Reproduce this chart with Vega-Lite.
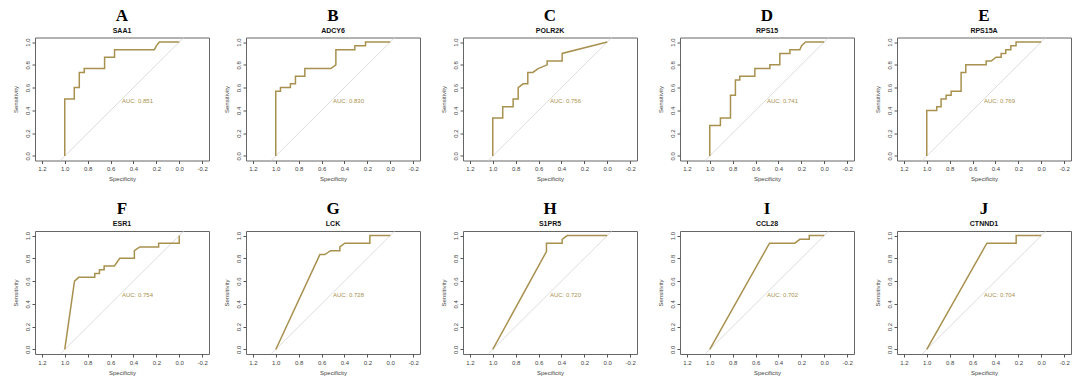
{
"$schema":"https://vega.github.io/schema/vega-lite/v6.json",
"background":"white",
"padding":{"left":11,"top":5.5,"right":0,"bottom":0},
"datasets":{
"diag":[{"x":1.04,"y":-0.04},{"x":-0.04,"y":1.04}],
"auc":[{"p":"A","label":"AUC: 0.851"},{"p":"B","label":"AUC: 0.830"},{"p":"C","label":"AUC: 0.756"},{"p":"D","label":"AUC: 0.741"},{"p":"E","label":"AUC: 0.769"},{"p":"F","label":"AUC: 0.754"},{"p":"G","label":"AUC: 0.728"},{"p":"H","label":"AUC: 0.720"},{"p":"I","label":"AUC: 0.702"},{"p":"J","label":"AUC: 0.704"}],
"roc":[
{"p":"A","i":0,"x":1,"y":0},{"p":"A","i":1,"x":1,"y":0.5},{"p":"A","i":2,"x":0.917,"y":0.5},{"p":"A","i":3,"x":0.917,"y":0.6},{"p":"A","i":4,"x":0.873,"y":0.6},{"p":"A","i":5,"x":0.873,"y":0.733},{"p":"A","i":6,"x":0.83,"y":0.733},{"p":"A","i":7,"x":0.83,"y":0.767},{"p":"A","i":8,"x":0.652,"y":0.767},{"p":"A","i":9,"x":0.652,"y":0.867},{"p":"A","i":10,"x":0.565,"y":0.867},{"p":"A","i":11,"x":0.565,"y":0.933},{"p":"A","i":12,"x":0.217,"y":0.933},{"p":"A","i":13,"x":0.2,"y":0.967},{"p":"A","i":14,"x":0.174,"y":1},{"p":"A","i":15,"x":0,"y":1},
{"p":"B","i":0,"x":1,"y":0},{"p":"B","i":1,"x":1,"y":0.567},{"p":"B","i":2,"x":0.959,"y":0.567},{"p":"B","i":3,"x":0.959,"y":0.6},{"p":"B","i":4,"x":0.872,"y":0.6},{"p":"B","i":5,"x":0.872,"y":0.633},{"p":"B","i":6,"x":0.828,"y":0.633},{"p":"B","i":7,"x":0.828,"y":0.7},{"p":"B","i":8,"x":0.746,"y":0.7},{"p":"B","i":9,"x":0.746,"y":0.767},{"p":"B","i":10,"x":0.519,"y":0.767},{"p":"B","i":11,"x":0.475,"y":0.8},{"p":"B","i":12,"x":0.475,"y":0.933},{"p":"B","i":13,"x":0.309,"y":0.933},{"p":"B","i":14,"x":0.309,"y":0.967},{"p":"B","i":15,"x":0.216,"y":0.967},{"p":"B","i":16,"x":0.216,"y":1},{"p":"B","i":17,"x":0,"y":1},
{"p":"C","i":0,"x":1,"y":0},{"p":"C","i":1,"x":1,"y":0.333},{"p":"C","i":2,"x":0.913,"y":0.333},{"p":"C","i":3,"x":0.913,"y":0.433},{"p":"C","i":4,"x":0.822,"y":0.433},{"p":"C","i":5,"x":0.822,"y":0.5},{"p":"C","i":6,"x":0.778,"y":0.5},{"p":"C","i":7,"x":0.778,"y":0.6},{"p":"C","i":8,"x":0.735,"y":0.633},{"p":"C","i":9,"x":0.694,"y":0.633},{"p":"C","i":10,"x":0.694,"y":0.733},{"p":"C","i":11,"x":0.65,"y":0.733},{"p":"C","i":12,"x":0.604,"y":0.767},{"p":"C","i":13,"x":0.525,"y":0.8},{"p":"C","i":14,"x":0.525,"y":0.833},{"p":"C","i":15,"x":0.394,"y":0.833},{"p":"C","i":16,"x":0.394,"y":0.9},{"p":"C","i":17,"x":0,"y":1},
{"p":"D","i":0,"x":1,"y":0},{"p":"D","i":1,"x":1,"y":0.267},{"p":"D","i":2,"x":0.907,"y":0.267},{"p":"D","i":3,"x":0.907,"y":0.333},{"p":"D","i":4,"x":0.819,"y":0.333},{"p":"D","i":5,"x":0.819,"y":0.533},{"p":"D","i":6,"x":0.776,"y":0.533},{"p":"D","i":7,"x":0.776,"y":0.667},{"p":"D","i":8,"x":0.738,"y":0.667},{"p":"D","i":9,"x":0.738,"y":0.7},{"p":"D","i":10,"x":0.606,"y":0.7},{"p":"D","i":11,"x":0.606,"y":0.767},{"p":"D","i":12,"x":0.475,"y":0.767},{"p":"D","i":13,"x":0.475,"y":0.8},{"p":"D","i":14,"x":0.388,"y":0.8},{"p":"D","i":15,"x":0.388,"y":0.9},{"p":"D","i":16,"x":0.3,"y":0.9},{"p":"D","i":17,"x":0.3,"y":0.933},{"p":"D","i":18,"x":0.213,"y":0.933},{"p":"D","i":19,"x":0.198,"y":0.967},{"p":"D","i":20,"x":0.163,"y":1},{"p":"D","i":21,"x":0,"y":1},
{"p":"E","i":0,"x":1,"y":0},{"p":"E","i":1,"x":1,"y":0.4},{"p":"E","i":2,"x":0.913,"y":0.4},{"p":"E","i":3,"x":0.913,"y":0.433},{"p":"E","i":4,"x":0.875,"y":0.433},{"p":"E","i":5,"x":0.875,"y":0.5},{"p":"E","i":6,"x":0.831,"y":0.5},{"p":"E","i":7,"x":0.831,"y":0.533},{"p":"E","i":8,"x":0.787,"y":0.533},{"p":"E","i":9,"x":0.787,"y":0.567},{"p":"E","i":10,"x":0.7,"y":0.567},{"p":"E","i":11,"x":0.7,"y":0.733},{"p":"E","i":12,"x":0.659,"y":0.733},{"p":"E","i":13,"x":0.659,"y":0.8},{"p":"E","i":14,"x":0.481,"y":0.8},{"p":"E","i":15,"x":0.481,"y":0.833},{"p":"E","i":16,"x":0.437,"y":0.833},{"p":"E","i":17,"x":0.394,"y":0.867},{"p":"E","i":18,"x":0.35,"y":0.867},{"p":"E","i":19,"x":0.35,"y":0.9},{"p":"E","i":20,"x":0.31,"y":0.9},{"p":"E","i":21,"x":0.31,"y":0.933},{"p":"E","i":22,"x":0.266,"y":0.933},{"p":"E","i":23,"x":0.266,"y":0.967},{"p":"E","i":24,"x":0.22,"y":0.967},{"p":"E","i":25,"x":0.22,"y":1},{"p":"E","i":26,"x":0,"y":1},
{"p":"F","i":0,"x":1,"y":0},{"p":"F","i":1,"x":0.915,"y":0.6},{"p":"F","i":2,"x":0.878,"y":0.633},{"p":"F","i":3,"x":0.738,"y":0.633},{"p":"F","i":4,"x":0.738,"y":0.667},{"p":"F","i":5,"x":0.697,"y":0.667},{"p":"F","i":6,"x":0.697,"y":0.7},{"p":"F","i":7,"x":0.656,"y":0.7},{"p":"F","i":8,"x":0.656,"y":0.733},{"p":"F","i":9,"x":0.566,"y":0.733},{"p":"F","i":10,"x":0.52,"y":0.8},{"p":"F","i":11,"x":0.392,"y":0.8},{"p":"F","i":12,"x":0.392,"y":0.867},{"p":"F","i":13,"x":0.345,"y":0.9},{"p":"F","i":14,"x":0.18,"y":0.9},{"p":"F","i":15,"x":0.18,"y":0.933},{"p":"F","i":16,"x":0,"y":0.933},{"p":"F","i":17,"x":0,"y":1},
{"p":"G","i":0,"x":1,"y":0},{"p":"G","i":1,"x":0.615,"y":0.833},{"p":"G","i":2,"x":0.571,"y":0.833},{"p":"G","i":3,"x":0.522,"y":0.867},{"p":"G","i":4,"x":0.44,"y":0.867},{"p":"G","i":5,"x":0.44,"y":0.9},{"p":"G","i":6,"x":0.397,"y":0.933},{"p":"G","i":7,"x":0.178,"y":0.933},{"p":"G","i":8,"x":0.178,"y":1},{"p":"G","i":9,"x":0,"y":1},
{"p":"H","i":0,"x":1,"y":0},{"p":"H","i":1,"x":0.531,"y":0.86},{"p":"H","i":2,"x":0.531,"y":0.933},{"p":"H","i":3,"x":0.394,"y":0.933},{"p":"H","i":4,"x":0.394,"y":0.967},{"p":"H","i":5,"x":0.35,"y":1},{"p":"H","i":6,"x":0,"y":1},
{"p":"I","i":0,"x":1,"y":0},{"p":"I","i":1,"x":0.478,"y":0.933},{"p":"I","i":2,"x":0.257,"y":0.933},{"p":"I","i":3,"x":0.213,"y":0.967},{"p":"I","i":4,"x":0.131,"y":0.967},{"p":"I","i":5,"x":0.131,"y":1},{"p":"I","i":6,"x":0,"y":1},
{"p":"J","i":0,"x":1,"y":0},{"p":"J","i":1,"x":0.475,"y":0.933},{"p":"J","i":2,"x":0.219,"y":0.933},{"p":"J","i":3,"x":0.219,"y":1},{"p":"J","i":4,"x":0,"y":1}
]},
"config":{
"view":{"stroke":"#666666","strokeWidth":1},
"title":{"font":"Liberation Serif","fontSize":17,"fontWeight":"bold","color":"#000000","subtitleFont":"Liberation Sans","subtitleFontSize":7,"subtitleFontWeight":"bold","subtitleColor":"#111111","subtitlePadding":2,"offset":1,"anchor":"middle","frame":"group"},
"axis":{"domain":false,"grid":false,"tickColor":"#555555","tickSize":3,"labelFont":"Liberation Sans","labelFontSize":6,"labelColor":"#444444","labelPadding":2,"titleFont":"Liberation Sans","titleFontSize":6,"titleFontWeight":"normal","titleColor":"#444444"},
"axisX":{"titlePadding":4,"title":"Specificity","values":[1.2,1,0.8,0.6,0.4,0.2,0,-0.2],"labelExpr":"replace(format(datum.value,'.1f'),'\u2212','-')"},
"axisY":{"titlePadding":6,"labelAngle":-90,"title":"Sensitivity","values":[0,0.2,0.4,0.6,0.8,1],"format":".1f"},
"text":{"color":"#a8914f","font":"Liberation Sans","fontSize":6}
},
"spacing":12,
"hconcat":[
{"spacing":16.5,"vconcat":[
{"title":{"text":"A","subtitle":"SAA1"},"width":174,"height":123,"layer":[
{"data":{"name":"diag"},"mark":{"type":"line","color":"#d4d4d4","strokeWidth":0.8},"encoding":{"x":{"field":"x","type":"quantitative","title":"Specificity","scale":{"domain":[1.26,-0.26],"nice":false,"zero":false},"axis":{"values":[1.2,1,0.8,0.6,0.4,0.2,0,-0.2],"labelExpr":"replace(format(datum.value,'.1f'),'\u2212','-')"}},"y":{"field":"y","type":"quantitative","title":"Sensitivity","scale":{"domain":[-0.04,1.04],"nice":false,"zero":false},"axis":{"values":[0,0.2,0.4,0.6,0.8,1],"format":".1f"}}}},
{"data":{"name":"roc"},"transform":[{"filter":"datum.p==='A'"}],"mark":{"type":"line","color":"#a8914f","strokeWidth":1.5},"encoding":{"x":{"field":"x","type":"quantitative","title":"Specificity","axis":{"values":[1.2,1,0.8,0.6,0.4,0.2,0,-0.2],"labelExpr":"replace(format(datum.value,'.1f'),'\u2212','-')"}},"y":{"field":"y","type":"quantitative","title":"Sensitivity","axis":{"values":[0,0.2,0.4,0.6,0.8,1],"format":".1f"}},"order":{"field":"i","type":"quantitative"}}},
{"data":{"name":"auc"},"transform":[{"filter":"datum.p==='A'"}],"mark":{"type":"text","align":"left","baseline":"middle"},"encoding":{"x":{"datum":0.5,"title":"Specificity","axis":{"values":[1.2,1,0.8,0.6,0.4,0.2,0,-0.2],"labelExpr":"replace(format(datum.value,'.1f'),'\u2212','-')"}},"y":{"datum":0.48,"title":"Sensitivity","axis":{"values":[0,0.2,0.4,0.6,0.8,1],"format":".1f"}},"text":{"field":"label","type":"nominal"}}}]},
{"title":{"text":"F","subtitle":"ESR1"},"width":174,"height":123,"layer":[
{"data":{"name":"diag"},"mark":{"type":"line","color":"#d4d4d4","strokeWidth":0.8},"encoding":{"x":{"field":"x","type":"quantitative","title":"Specificity","scale":{"domain":[1.26,-0.26],"nice":false,"zero":false},"axis":{"values":[1.2,1,0.8,0.6,0.4,0.2,0,-0.2],"labelExpr":"replace(format(datum.value,'.1f'),'\u2212','-')"}},"y":{"field":"y","type":"quantitative","title":"Sensitivity","scale":{"domain":[-0.04,1.04],"nice":false,"zero":false},"axis":{"values":[0,0.2,0.4,0.6,0.8,1],"format":".1f"}}}},
{"data":{"name":"roc"},"transform":[{"filter":"datum.p==='F'"}],"mark":{"type":"line","color":"#a8914f","strokeWidth":1.5},"encoding":{"x":{"field":"x","type":"quantitative","title":"Specificity","axis":{"values":[1.2,1,0.8,0.6,0.4,0.2,0,-0.2],"labelExpr":"replace(format(datum.value,'.1f'),'\u2212','-')"}},"y":{"field":"y","type":"quantitative","title":"Sensitivity","axis":{"values":[0,0.2,0.4,0.6,0.8,1],"format":".1f"}},"order":{"field":"i","type":"quantitative"}}},
{"data":{"name":"auc"},"transform":[{"filter":"datum.p==='F'"}],"mark":{"type":"text","align":"left","baseline":"middle"},"encoding":{"x":{"datum":0.5,"title":"Specificity","axis":{"values":[1.2,1,0.8,0.6,0.4,0.2,0,-0.2],"labelExpr":"replace(format(datum.value,'.1f'),'\u2212','-')"}},"y":{"datum":0.48,"title":"Sensitivity","axis":{"values":[0,0.2,0.4,0.6,0.8,1],"format":".1f"}},"text":{"field":"label","type":"nominal"}}}]}
]},
{"columns":4,"spacing":{"row":16.5,"column":18},"concat":[
{"title":{"text":"B","subtitle":"ADCY6"},"width":174,"height":123,"layer":[
{"data":{"name":"diag"},"mark":{"type":"line","color":"#d4d4d4","strokeWidth":0.8},"encoding":{"x":{"field":"x","type":"quantitative","title":"Specificity","scale":{"domain":[1.26,-0.26],"nice":false,"zero":false},"axis":{"values":[1.2,1,0.8,0.6,0.4,0.2,0,-0.2],"labelExpr":"replace(format(datum.value,'.1f'),'\u2212','-')"}},"y":{"field":"y","type":"quantitative","title":"Sensitivity","scale":{"domain":[-0.04,1.04],"nice":false,"zero":false},"axis":{"values":[0,0.2,0.4,0.6,0.8,1],"format":".1f"}}}},
{"data":{"name":"roc"},"transform":[{"filter":"datum.p==='B'"}],"mark":{"type":"line","color":"#a8914f","strokeWidth":1.5},"encoding":{"x":{"field":"x","type":"quantitative","title":"Specificity","axis":{"values":[1.2,1,0.8,0.6,0.4,0.2,0,-0.2],"labelExpr":"replace(format(datum.value,'.1f'),'\u2212','-')"}},"y":{"field":"y","type":"quantitative","title":"Sensitivity","axis":{"values":[0,0.2,0.4,0.6,0.8,1],"format":".1f"}},"order":{"field":"i","type":"quantitative"}}},
{"data":{"name":"auc"},"transform":[{"filter":"datum.p==='B'"}],"mark":{"type":"text","align":"left","baseline":"middle"},"encoding":{"x":{"datum":0.5,"title":"Specificity","axis":{"values":[1.2,1,0.8,0.6,0.4,0.2,0,-0.2],"labelExpr":"replace(format(datum.value,'.1f'),'\u2212','-')"}},"y":{"datum":0.48,"title":"Sensitivity","axis":{"values":[0,0.2,0.4,0.6,0.8,1],"format":".1f"}},"text":{"field":"label","type":"nominal"}}}]},
{"title":{"text":"C","subtitle":"POLR2K"},"width":174,"height":123,"layer":[
{"data":{"name":"diag"},"mark":{"type":"line","color":"#d4d4d4","strokeWidth":0.8},"encoding":{"x":{"field":"x","type":"quantitative","title":"Specificity","scale":{"domain":[1.26,-0.26],"nice":false,"zero":false},"axis":{"values":[1.2,1,0.8,0.6,0.4,0.2,0,-0.2],"labelExpr":"replace(format(datum.value,'.1f'),'\u2212','-')"}},"y":{"field":"y","type":"quantitative","title":"Sensitivity","scale":{"domain":[-0.04,1.04],"nice":false,"zero":false},"axis":{"values":[0,0.2,0.4,0.6,0.8,1],"format":".1f"}}}},
{"data":{"name":"roc"},"transform":[{"filter":"datum.p==='C'"}],"mark":{"type":"line","color":"#a8914f","strokeWidth":1.5},"encoding":{"x":{"field":"x","type":"quantitative","title":"Specificity","axis":{"values":[1.2,1,0.8,0.6,0.4,0.2,0,-0.2],"labelExpr":"replace(format(datum.value,'.1f'),'\u2212','-')"}},"y":{"field":"y","type":"quantitative","title":"Sensitivity","axis":{"values":[0,0.2,0.4,0.6,0.8,1],"format":".1f"}},"order":{"field":"i","type":"quantitative"}}},
{"data":{"name":"auc"},"transform":[{"filter":"datum.p==='C'"}],"mark":{"type":"text","align":"left","baseline":"middle"},"encoding":{"x":{"datum":0.5,"title":"Specificity","axis":{"values":[1.2,1,0.8,0.6,0.4,0.2,0,-0.2],"labelExpr":"replace(format(datum.value,'.1f'),'\u2212','-')"}},"y":{"datum":0.48,"title":"Sensitivity","axis":{"values":[0,0.2,0.4,0.6,0.8,1],"format":".1f"}},"text":{"field":"label","type":"nominal"}}}]},
{"title":{"text":"D","subtitle":"RPS15"},"width":174,"height":123,"layer":[
{"data":{"name":"diag"},"mark":{"type":"line","color":"#d4d4d4","strokeWidth":0.8},"encoding":{"x":{"field":"x","type":"quantitative","title":"Specificity","scale":{"domain":[1.26,-0.26],"nice":false,"zero":false},"axis":{"values":[1.2,1,0.8,0.6,0.4,0.2,0,-0.2],"labelExpr":"replace(format(datum.value,'.1f'),'\u2212','-')"}},"y":{"field":"y","type":"quantitative","title":"Sensitivity","scale":{"domain":[-0.04,1.04],"nice":false,"zero":false},"axis":{"values":[0,0.2,0.4,0.6,0.8,1],"format":".1f"}}}},
{"data":{"name":"roc"},"transform":[{"filter":"datum.p==='D'"}],"mark":{"type":"line","color":"#a8914f","strokeWidth":1.5},"encoding":{"x":{"field":"x","type":"quantitative","title":"Specificity","axis":{"values":[1.2,1,0.8,0.6,0.4,0.2,0,-0.2],"labelExpr":"replace(format(datum.value,'.1f'),'\u2212','-')"}},"y":{"field":"y","type":"quantitative","title":"Sensitivity","axis":{"values":[0,0.2,0.4,0.6,0.8,1],"format":".1f"}},"order":{"field":"i","type":"quantitative"}}},
{"data":{"name":"auc"},"transform":[{"filter":"datum.p==='D'"}],"mark":{"type":"text","align":"left","baseline":"middle"},"encoding":{"x":{"datum":0.5,"title":"Specificity","axis":{"values":[1.2,1,0.8,0.6,0.4,0.2,0,-0.2],"labelExpr":"replace(format(datum.value,'.1f'),'\u2212','-')"}},"y":{"datum":0.48,"title":"Sensitivity","axis":{"values":[0,0.2,0.4,0.6,0.8,1],"format":".1f"}},"text":{"field":"label","type":"nominal"}}}]},
{"title":{"text":"E","subtitle":"RPS15A"},"width":174,"height":123,"layer":[
{"data":{"name":"diag"},"mark":{"type":"line","color":"#d4d4d4","strokeWidth":0.8},"encoding":{"x":{"field":"x","type":"quantitative","title":"Specificity","scale":{"domain":[1.26,-0.26],"nice":false,"zero":false},"axis":{"values":[1.2,1,0.8,0.6,0.4,0.2,0,-0.2],"labelExpr":"replace(format(datum.value,'.1f'),'\u2212','-')"}},"y":{"field":"y","type":"quantitative","title":"Sensitivity","scale":{"domain":[-0.04,1.04],"nice":false,"zero":false},"axis":{"values":[0,0.2,0.4,0.6,0.8,1],"format":".1f"}}}},
{"data":{"name":"roc"},"transform":[{"filter":"datum.p==='E'"}],"mark":{"type":"line","color":"#a8914f","strokeWidth":1.5},"encoding":{"x":{"field":"x","type":"quantitative","title":"Specificity","axis":{"values":[1.2,1,0.8,0.6,0.4,0.2,0,-0.2],"labelExpr":"replace(format(datum.value,'.1f'),'\u2212','-')"}},"y":{"field":"y","type":"quantitative","title":"Sensitivity","axis":{"values":[0,0.2,0.4,0.6,0.8,1],"format":".1f"}},"order":{"field":"i","type":"quantitative"}}},
{"data":{"name":"auc"},"transform":[{"filter":"datum.p==='E'"}],"mark":{"type":"text","align":"left","baseline":"middle"},"encoding":{"x":{"datum":0.5,"title":"Specificity","axis":{"values":[1.2,1,0.8,0.6,0.4,0.2,0,-0.2],"labelExpr":"replace(format(datum.value,'.1f'),'\u2212','-')"}},"y":{"datum":0.48,"title":"Sensitivity","axis":{"values":[0,0.2,0.4,0.6,0.8,1],"format":".1f"}},"text":{"field":"label","type":"nominal"}}}]},
{"title":{"text":"G","subtitle":"LCK"},"width":174,"height":123,"layer":[
{"data":{"name":"diag"},"mark":{"type":"line","color":"#d4d4d4","strokeWidth":0.8},"encoding":{"x":{"field":"x","type":"quantitative","title":"Specificity","scale":{"domain":[1.26,-0.26],"nice":false,"zero":false},"axis":{"values":[1.2,1,0.8,0.6,0.4,0.2,0,-0.2],"labelExpr":"replace(format(datum.value,'.1f'),'\u2212','-')"}},"y":{"field":"y","type":"quantitative","title":"Sensitivity","scale":{"domain":[-0.04,1.04],"nice":false,"zero":false},"axis":{"values":[0,0.2,0.4,0.6,0.8,1],"format":".1f"}}}},
{"data":{"name":"roc"},"transform":[{"filter":"datum.p==='G'"}],"mark":{"type":"line","color":"#a8914f","strokeWidth":1.5},"encoding":{"x":{"field":"x","type":"quantitative","title":"Specificity","axis":{"values":[1.2,1,0.8,0.6,0.4,0.2,0,-0.2],"labelExpr":"replace(format(datum.value,'.1f'),'\u2212','-')"}},"y":{"field":"y","type":"quantitative","title":"Sensitivity","axis":{"values":[0,0.2,0.4,0.6,0.8,1],"format":".1f"}},"order":{"field":"i","type":"quantitative"}}},
{"data":{"name":"auc"},"transform":[{"filter":"datum.p==='G'"}],"mark":{"type":"text","align":"left","baseline":"middle"},"encoding":{"x":{"datum":0.5,"title":"Specificity","axis":{"values":[1.2,1,0.8,0.6,0.4,0.2,0,-0.2],"labelExpr":"replace(format(datum.value,'.1f'),'\u2212','-')"}},"y":{"datum":0.48,"title":"Sensitivity","axis":{"values":[0,0.2,0.4,0.6,0.8,1],"format":".1f"}},"text":{"field":"label","type":"nominal"}}}]},
{"title":{"text":"H","subtitle":"S1PR5"},"width":174,"height":123,"layer":[
{"data":{"name":"diag"},"mark":{"type":"line","color":"#d4d4d4","strokeWidth":0.8},"encoding":{"x":{"field":"x","type":"quantitative","title":"Specificity","scale":{"domain":[1.26,-0.26],"nice":false,"zero":false},"axis":{"values":[1.2,1,0.8,0.6,0.4,0.2,0,-0.2],"labelExpr":"replace(format(datum.value,'.1f'),'\u2212','-')"}},"y":{"field":"y","type":"quantitative","title":"Sensitivity","scale":{"domain":[-0.04,1.04],"nice":false,"zero":false},"axis":{"values":[0,0.2,0.4,0.6,0.8,1],"format":".1f"}}}},
{"data":{"name":"roc"},"transform":[{"filter":"datum.p==='H'"}],"mark":{"type":"line","color":"#a8914f","strokeWidth":1.5},"encoding":{"x":{"field":"x","type":"quantitative","title":"Specificity","axis":{"values":[1.2,1,0.8,0.6,0.4,0.2,0,-0.2],"labelExpr":"replace(format(datum.value,'.1f'),'\u2212','-')"}},"y":{"field":"y","type":"quantitative","title":"Sensitivity","axis":{"values":[0,0.2,0.4,0.6,0.8,1],"format":".1f"}},"order":{"field":"i","type":"quantitative"}}},
{"data":{"name":"auc"},"transform":[{"filter":"datum.p==='H'"}],"mark":{"type":"text","align":"left","baseline":"middle"},"encoding":{"x":{"datum":0.5,"title":"Specificity","axis":{"values":[1.2,1,0.8,0.6,0.4,0.2,0,-0.2],"labelExpr":"replace(format(datum.value,'.1f'),'\u2212','-')"}},"y":{"datum":0.48,"title":"Sensitivity","axis":{"values":[0,0.2,0.4,0.6,0.8,1],"format":".1f"}},"text":{"field":"label","type":"nominal"}}}]},
{"title":{"text":"I","subtitle":"CCL28"},"width":174,"height":123,"layer":[
{"data":{"name":"diag"},"mark":{"type":"line","color":"#d4d4d4","strokeWidth":0.8},"encoding":{"x":{"field":"x","type":"quantitative","title":"Specificity","scale":{"domain":[1.26,-0.26],"nice":false,"zero":false},"axis":{"values":[1.2,1,0.8,0.6,0.4,0.2,0,-0.2],"labelExpr":"replace(format(datum.value,'.1f'),'\u2212','-')"}},"y":{"field":"y","type":"quantitative","title":"Sensitivity","scale":{"domain":[-0.04,1.04],"nice":false,"zero":false},"axis":{"values":[0,0.2,0.4,0.6,0.8,1],"format":".1f"}}}},
{"data":{"name":"roc"},"transform":[{"filter":"datum.p==='I'"}],"mark":{"type":"line","color":"#a8914f","strokeWidth":1.5},"encoding":{"x":{"field":"x","type":"quantitative","title":"Specificity","axis":{"values":[1.2,1,0.8,0.6,0.4,0.2,0,-0.2],"labelExpr":"replace(format(datum.value,'.1f'),'\u2212','-')"}},"y":{"field":"y","type":"quantitative","title":"Sensitivity","axis":{"values":[0,0.2,0.4,0.6,0.8,1],"format":".1f"}},"order":{"field":"i","type":"quantitative"}}},
{"data":{"name":"auc"},"transform":[{"filter":"datum.p==='I'"}],"mark":{"type":"text","align":"left","baseline":"middle"},"encoding":{"x":{"datum":0.5,"title":"Specificity","axis":{"values":[1.2,1,0.8,0.6,0.4,0.2,0,-0.2],"labelExpr":"replace(format(datum.value,'.1f'),'\u2212','-')"}},"y":{"datum":0.48,"title":"Sensitivity","axis":{"values":[0,0.2,0.4,0.6,0.8,1],"format":".1f"}},"text":{"field":"label","type":"nominal"}}}]},
{"title":{"text":"J","subtitle":"CTNND1"},"width":174,"height":123,"layer":[
{"data":{"name":"diag"},"mark":{"type":"line","color":"#d4d4d4","strokeWidth":0.8},"encoding":{"x":{"field":"x","type":"quantitative","title":"Specificity","scale":{"domain":[1.26,-0.26],"nice":false,"zero":false},"axis":{"values":[1.2,1,0.8,0.6,0.4,0.2,0,-0.2],"labelExpr":"replace(format(datum.value,'.1f'),'\u2212','-')"}},"y":{"field":"y","type":"quantitative","title":"Sensitivity","scale":{"domain":[-0.04,1.04],"nice":false,"zero":false},"axis":{"values":[0,0.2,0.4,0.6,0.8,1],"format":".1f"}}}},
{"data":{"name":"roc"},"transform":[{"filter":"datum.p==='J'"}],"mark":{"type":"line","color":"#a8914f","strokeWidth":1.5},"encoding":{"x":{"field":"x","type":"quantitative","title":"Specificity","axis":{"values":[1.2,1,0.8,0.6,0.4,0.2,0,-0.2],"labelExpr":"replace(format(datum.value,'.1f'),'\u2212','-')"}},"y":{"field":"y","type":"quantitative","title":"Sensitivity","axis":{"values":[0,0.2,0.4,0.6,0.8,1],"format":".1f"}},"order":{"field":"i","type":"quantitative"}}},
{"data":{"name":"auc"},"transform":[{"filter":"datum.p==='J'"}],"mark":{"type":"text","align":"left","baseline":"middle"},"encoding":{"x":{"datum":0.5,"title":"Specificity","axis":{"values":[1.2,1,0.8,0.6,0.4,0.2,0,-0.2],"labelExpr":"replace(format(datum.value,'.1f'),'\u2212','-')"}},"y":{"datum":0.48,"title":"Sensitivity","axis":{"values":[0,0.2,0.4,0.6,0.8,1],"format":".1f"}},"text":{"field":"label","type":"nominal"}}}]}
]}
]
}
